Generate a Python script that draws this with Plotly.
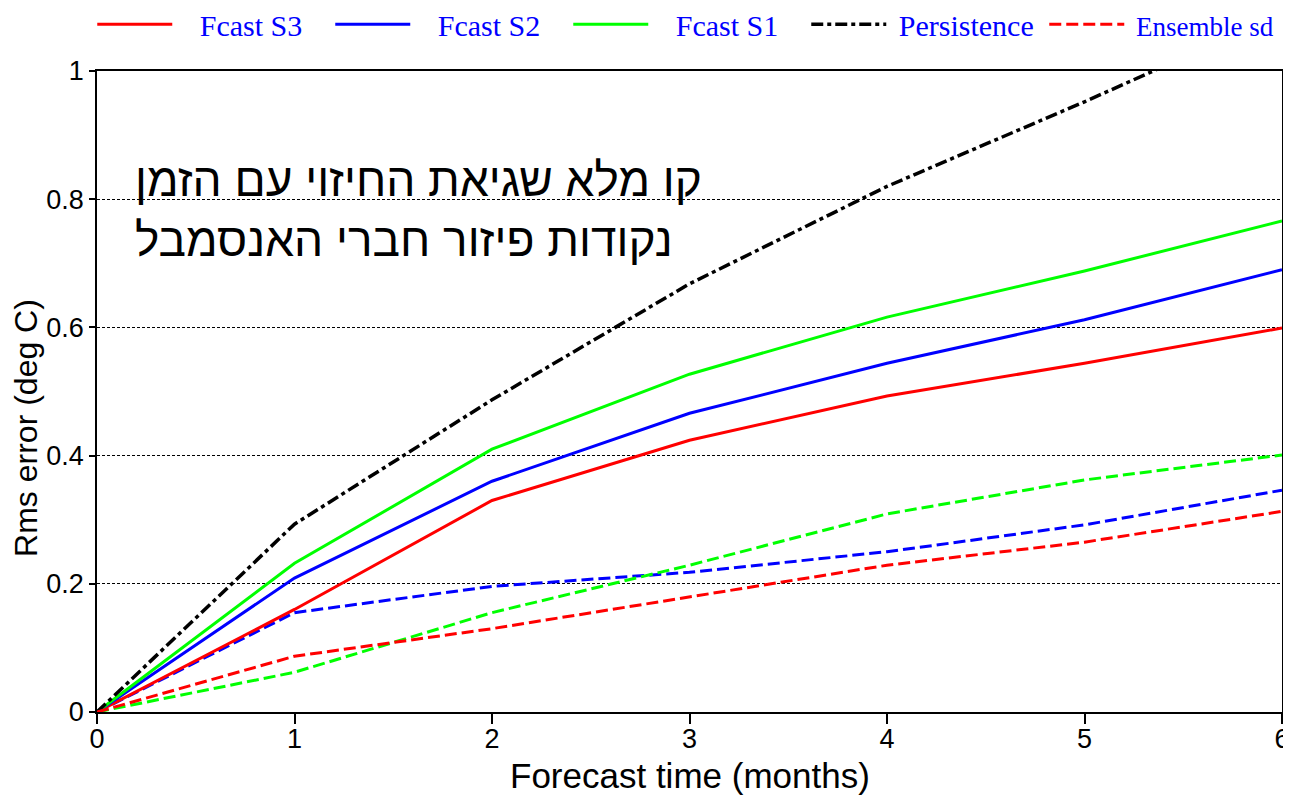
import plotly.graph_objects as go

months = [0, 1, 2, 3, 4, 5, 6]
fcast_s3 = [0, 0.160, 0.330, 0.424, 0.493, 0.544, 0.599]
fcast_s2 = [0, 0.209, 0.360, 0.466, 0.544, 0.612, 0.690]
fcast_s1 = [0, 0.232, 0.410, 0.527, 0.616, 0.688, 0.766]
persistence = [0, 0.293, 0.487, 0.668, 0.820, 0.952, 1.09]
sd_s3 = [0, 0.087, 0.130, 0.179, 0.229, 0.265, 0.313]
sd_s2 = [0, 0.155, 0.196, 0.218, 0.250, 0.292, 0.346]
sd_s1 = [0, 0.062, 0.155, 0.229, 0.309, 0.362, 0.401]

y_ticks = [0, 0.2, 0.4, 0.6, 0.8, 1]
y_ticklabels = ["0", "0.2", "0.4", "0.6", "0.8", "1"]
x_ticks = [0, 1, 2, 3, 4, 5, 6]

RED, BLUE, GREEN, BLACK = "#ff0000", "#0000ff", "#00ff00", "#000000"
LW = 3
SP = "\u00a0\u00a0\u00a0"

fig = go.Figure()

fig.add_trace(go.Scatter(x=months, y=sd_s2, mode="lines", showlegend=False,
                         line=dict(color=BLUE, width=LW, dash="12px,5px")))
fig.add_trace(go.Scatter(x=months, y=sd_s1, mode="lines", showlegend=False,
                         line=dict(color=GREEN, width=LW, dash="12px,5px")))

fig.add_trace(go.Scatter(x=months, y=fcast_s3, mode="lines", name=SP + "Fcast S3",
                         line=dict(color=RED, width=LW)))
fig.add_trace(go.Scatter(x=months, y=fcast_s2, mode="lines", name=SP + "Fcast S2",
                         line=dict(color=BLUE, width=LW)))
fig.add_trace(go.Scatter(x=months, y=fcast_s1, mode="lines", name=SP + "Fcast S1",
                         line=dict(color=GREEN, width=LW)))
fig.add_trace(go.Scatter(x=months, y=persistence, mode="lines", name="\u00a0Persistence",
                         line=dict(color=BLACK, width=3.5, dash="12px,4px,4px,4px")))
fig.add_trace(go.Scatter(x=months, y=sd_s3, mode="lines",
                         name='<span style="font-size:27px">\u00a0Ensemble sd</span>',
                         line=dict(color=RED, width=LW, dash="12px,5px")))

fig.add_annotation(
    xref="paper", yref="paper", x=0.030, y=0.783, xanchor="left", yanchor="middle",
    align="left", showarrow=False,
    text="קו מלא שגיאת החיזוי עם הזמן<br>נקודות פיזור חברי האנסמבל",
    font=dict(family="Liberation Sans, Arial, DejaVu Sans", size=46, color="black"),
)
# axis titles
fig.add_annotation(
    xref="paper", yref="paper", x=0.5, y=-0.099, xanchor="center", yanchor="middle",
    showarrow=False, text="Forecast time (months)",
    font=dict(family="Liberation Sans, Arial", size=35, color="black"),
)
fig.add_annotation(
    xref="paper", yref="paper", x=-0.060, y=0.443, xanchor="center", yanchor="middle",
    showarrow=False, text="Rms error (deg C)", textangle=-90,
    font=dict(family="Liberation Sans, Arial", size=32, color="black"),
)

fig.update_layout(
    width=1283, height=790,
    margin=dict(l=89, r=9, t=63, b=86, autoexpand=False),
    paper_bgcolor="white", plot_bgcolor="white",
    legend=dict(orientation="h", x=-0.004, xanchor="left", y=1.073, yanchor="middle",
                font=dict(family="Liberation Serif, Times New Roman", size=30, color=BLUE),
                entrywidth=148, itemwidth=75, bgcolor="rgba(0,0,0,0)"),
    xaxis=dict(range=[0, 6], tickvals=x_ticks, ticks="outside", ticklen=10, tickwidth=1.5,
               tickcolor="black", showgrid=False, zeroline=False, automargin=False,
               ticklabelstandoff=-8,
               showline=True, linecolor="black", linewidth=1.5, mirror=True,
               tickfont=dict(family="Liberation Sans Narrow, Arial Narrow, Liberation Sans", size=27, color="black")),
    yaxis=dict(range=[0, 1], tickvals=y_ticks, ticktext=y_ticklabels, ticks="outside",
               ticklen=6, tickwidth=1.5, tickcolor="black", automargin=False,
               showgrid=True, gridcolor="black", gridwidth=1, griddash="3px,2px",
               zeroline=True, zerolinecolor="black", zerolinewidth=3,
               showline=True, linecolor="black", linewidth=1.5, mirror=True,
               tickfont=dict(family="Liberation Sans Narrow, Arial Narrow, Liberation Sans", size=27, color="black")),
)

fig.write_html("out.html")
